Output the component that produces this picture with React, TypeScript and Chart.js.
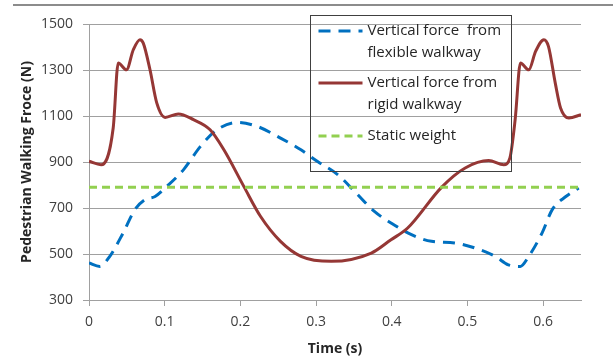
import React, { useEffect, useRef } from "react";
import { Chart, registerables } from "chart.js";

Chart.register(...registerables);

// Rigid walkway (time s, force N)
const rigidTime = [0, 0.016, 0.032, 0.0386, 0.0496, 0.0585, 0.0673, 0.0717, 0.0806, 0.0895, 0.1005, 0.118, 0.138, 0.16, 0.178, 0.2045, 0.2267, 0.253, 0.28, 0.32, 0.373, 0.399, 0.421, 0.466, 0.497, 0.528, 0.548, 0.556, 0.563, 0.57, 0.581, 0.59, 0.601, 0.607, 0.616, 0.623, 0.634, 0.65];
const rigidForce = [903, 888, 1049, 1330, 1301, 1388, 1432, 1417, 1301, 1157, 1094, 1109, 1084, 1040, 954, 794, 663, 555, 490, 468, 504, 562, 613, 791, 874, 906, 888, 917, 1084, 1330, 1301, 1381, 1432, 1403, 1243, 1135, 1091, 1106];

// Flexible walkway (time s, force N)
const flexTime = [0, 0.0142, 0.0275, 0.045, 0.0607, 0.074, 0.0873, 0.1028, 0.125, 0.147, 0.169, 0.196, 0.222, 0.253, 0.28, 0.302, 0.3285, 0.351, 0.377, 0.399, 0.426, 0.4525, 0.483, 0.51, 0.5365, 0.554, 0.57, 0.581, 0.5985, 0.612, 0.63, 0.647];
const flexForce = [461, 446, 490, 591, 693, 736, 750, 794, 867, 967, 1040, 1072, 1055, 1004, 953, 902, 845, 772, 685, 635, 584, 555, 548, 526, 490, 453, 446, 490, 591, 693, 750, 787];

// Static weight
const staticTime = [0, 0.65];
const staticForce = [790, 790];

const xTicks = [0, 0.1, 0.2, 0.3, 0.4, 0.5, 0.6];
const yTicks = [300, 500, 700, 900, 1100, 1300, 1500];

const legendLines = [
  ["Vertical force  from", "flexible walkway"],
  ["Vertical force from", "rigid walkway"],
  ["Static weight"],
];

const FONT = "'Open Sans', 'Noto Sans', sans-serif";
const BLUE = "#0070C0";
const RED = "#953735";
const GREEN = "#92D050";
const GRID = "#a0a0a0";

const toPts = (xs: number[], ys: number[]) => xs.map((x, i) => ({ x, y: ys[i] }));

const legendPlugin = {
  id: "boxLegend",
  beforeDraw(chart: any) {
    const ctx = chart.ctx;
    ctx.save();
    ctx.strokeStyle = "#8c8c8c";
    ctx.lineWidth = 2;
    ctx.beginPath();
    ctx.moveTo(13, 5);
    ctx.lineTo(chart.width, 5);
    ctx.stroke();
    ctx.restore();
  },
  afterDraw(chart: any) {
    const ctx = chart.ctx;
    const bx = 310.5, by = 15.5, bw = 201, bh = 156;
    ctx.save();
    ctx.strokeStyle = "#404040";
    ctx.lineWidth = 1;
    ctx.strokeRect(bx, by, bw, bh);
    const rowsY = [31, 83, 136];
    const lineGap = 22;
    ctx.font = `15px ${FONT}`;
    ctx.fillStyle = "#262626";
    ctx.textBaseline = "middle";
    ctx.textAlign = "left";
    const ds = chart.data.datasets;
    const order = [0, 1, 2];
    order.forEach((di, row) => {
      const d = ds[di];
      const y = rowsY[row];
      ctx.save();
      ctx.strokeStyle = d.borderColor;
      ctx.lineWidth = d.borderWidth;
      ctx.setLineDash(d.borderDash || []);
      ctx.beginPath();
      ctx.moveTo(bx + 8, y);
      ctx.lineTo(bx + 52, y);
      ctx.stroke();
      ctx.restore();
      legendLines[row].forEach((t, li) => {
        ctx.fillText(t, bx + 57, y + li * lineGap);
      });
    });
    ctx.restore();
  },
};

export default function App() {
  const ref = useRef<HTMLCanvasElement>(null);
  useEffect(() => {
    if (!ref.current) return;
    const chart = new Chart(ref.current, {
      type: "line",
      data: {
        datasets: [
          {
            label: "Vertical force from flexible walkway",
            data: toPts(flexTime, flexForce),
            borderColor: BLUE,
            borderWidth: 3,
            borderDash: [12, 8],
            pointRadius: 0,
            cubicInterpolationMode: "monotone",
            fill: false,
            order: 2,
          },
          {
            label: "Vertical force from rigid walkway",
            data: toPts(rigidTime, rigidForce),
            borderColor: RED,
            borderWidth: 3,
            pointRadius: 0,
            cubicInterpolationMode: "monotone",
            fill: false,
            order: 1,
          },
          {
            label: "Static weight",
            data: toPts(staticTime, staticForce),
            borderColor: GREEN,
            borderWidth: 3,
            borderDash: [8, 5],
            pointRadius: 0,
            fill: false,
            order: 0,
          },
        ],
      },
      options: {
        responsive: false,
        animation: false,
        layout: { padding: { top: 24, right: 32, left: 0, bottom: 0 } },
        plugins: { legend: { display: false }, tooltip: { enabled: false } },
        scales: {
          x: {
            type: "linear",
            min: 0,
            max: 0.65,
            afterBuildTicks: (s: any) => {
              s.ticks = xTicks.map((v) => ({ value: v }));
            },
            afterFit: (s: any) => {
              s.height = 58;
            },
            ticks: {
              color: "#404040",
              font: { family: FONT, size: 14 },
              padding: 8,
              callback: (v: any) => String(Number(v)),
            },
            grid: { drawOnChartArea: false, drawTicks: true, tickLength: 6, color: GRID },
            border: { color: GRID, width: 1 },
            title: {
              display: true,
              text: "Time (s)",
              color: "#262626",
              font: { family: FONT, size: 14, weight: "bold" },
              padding: { top: 0, bottom: 1 },
            },
          },
          y: {
            min: 300,
            max: 1500,
            afterBuildTicks: (s: any) => {
              s.ticks = yTicks.map((v) => ({ value: v }));
            },
            afterFit: (s: any) => {
              s.width = 89;
            },
            ticks: {
              color: "#404040",
              font: { family: FONT, size: 14 },
              padding: 10,
              callback: (v: any) => String(Number(v)),
            },
            grid: { color: GRID, tickLength: 6, drawTicks: true },
            border: { color: GRID, width: 1 },
            title: {
              display: true,
              text: "Pedestrian Walking Froce (N)",
              color: "#262626",
              font: { family: FONT, size: 14, weight: "bold" },
              padding: { top: 19, bottom: 0 },
            },
          },
        },
      },
      plugins: [legendPlugin],
    } as any);
    return () => chart.destroy();
  }, []);
  return (
    <div style={{ position: "fixed", left: 0, top: 0, width: 613, height: 358, background: "#fff" }}>
      <canvas ref={ref} width={613} height={358} />
    </div>
  );
}
